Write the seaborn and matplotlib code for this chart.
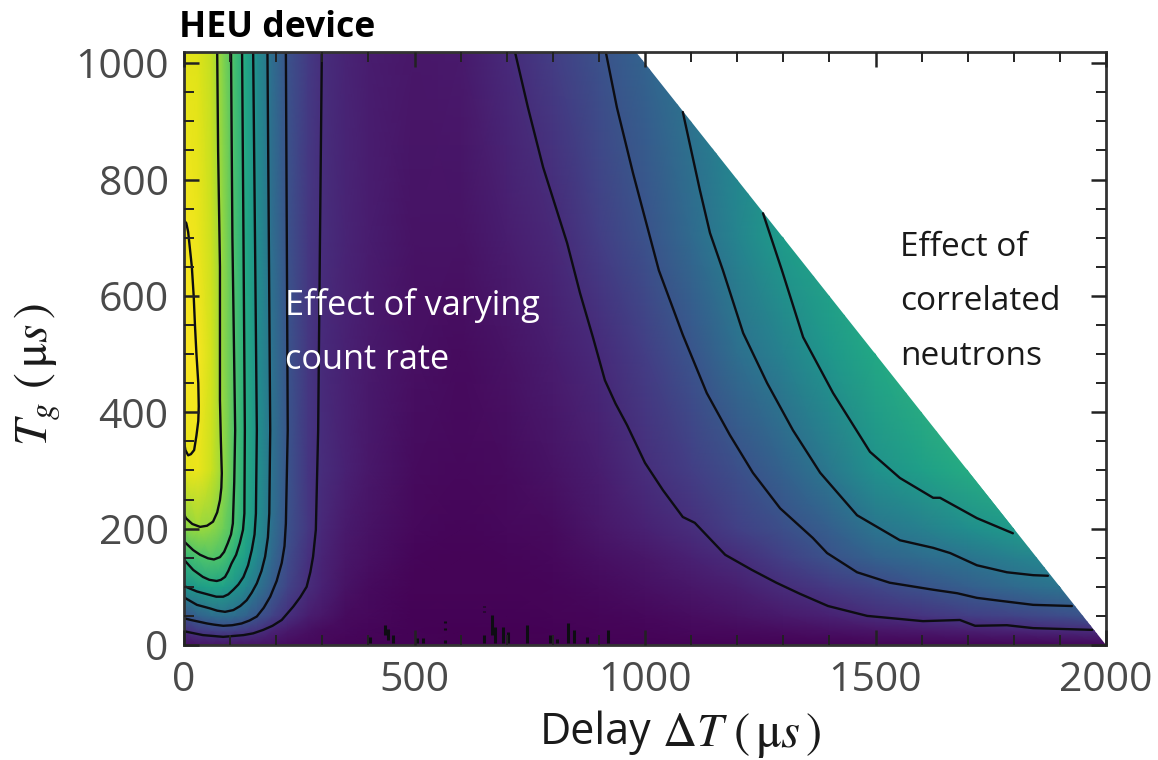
# -*- coding: utf-8 -*-
import matplotlib
matplotlib.use('Agg')
import matplotlib.pyplot as plt
from matplotlib.patches import Polygon
from matplotlib.ticker import MultipleLocator
import numpy as np
import seaborn as sns

# grid the colour map is read on (delay, gate width in us)
delay = [0, 30, 60, 85, 110, 135, 160, 190, 225, 270, 300, 350, 400, 500, 600, 700, 800,
         900, 1000, 1100, 1200, 1300, 1400, 1500, 1600, 1700, 1800, 1900, 2000]
gate = [0, 25, 50, 100, 150, 200, 300, 500, 700, 1020]

# colour level at each grid node, one row per gate value
row_0 = [.04, .05, .05, .05, .05, .05, .05, .04, .03, .02, .02, .01, .01, .005, .003, .003, .003,
         .004, .005, .005, .006, .006, .007, .008, .009, .01, .01, .015, .02]
row_25 = [.13, .17, .19, .20, .19, .17, .145, .105, .07, .04, .03, .02, .015, .005, .003, .003, .005,
          .01, .015, .02, .025, .035, .045, .055, .07, .085, .10, .115, .13]
row_50 = [.25, .31, .35, .36, .35, .31, .26, .20, .14, .08, .06, .03, .02, .005, .005, .005, .01,
          .015, .02, .035, .05, .07, .09, .125, .15, .18, .20, .23, .27]
row_100 = [.51, .55, .58, .57, .52, .46, .39, .29, .20, .125, .09, .05, .03, .01, .01, .01, .015,
           .025, .04, .06, .085, .125, .17, .21, .255, .30, .34, .385, .42]
row_150 = [.66, .71, .73, .71, .62, .55, .46, .34, .23, .14, .10, .06, .04, .015, .01, .015, .02,
           .04, .06, .09, .125, .19, .25, .31, .35, .385, .43, .47, .52]
row_200 = [.82, .85, .83, .78, .71, .60, .49, .37, .25, .16, .11, .07, .05, .02, .015, .02, .03,
           .06, .09, .13, .19, .24, .30, .39, .43, .49, .54, .60, .64]
row_300 = [.96, .97, .92, .84, .72, .61, .50, .38, .26, .155, .125, .09, .065, .03, .02, .03, .05,
           .08, .13, .18, .24, .31, .40, .50, .56, .61, .65, .70, .74]
row_500 = [1.0, .99, .93, .83, .72, .61, .49, .38, .26, .16, .12, .09, .07, .04, .03, .05, .08,
           .12, .18, .26, .36, .44, .53, .60, .65, .70, .75, .80, .85]
row_700 = [.985, .97, .92, .83, .71, .60, .49, .36, .25, .16, .13, .10, .08, .05, .05, .08, .11,
           .18, .25, .34, .45, .55, .60, .65, .70, .75, .80, .85, .90]
row_top = [.96, .95, .91, .81, .70, .59, .48, .36, .25, .17, .13, .10, .08, .06, .07, .12, .18,
           .25, .32, .40, .48, .56, .60, .65, .70, .75, .80, .85, .90]

# contour lines
line_a_x = [0, 5, 9, 13, 17, 21, 24, 27, 31, 32, 31, 27, 22, 15, 9, 3, 0]
line_a_y = [730, 725, 710, 680, 650, 600, 546, 500, 450, 410, 385, 360, 335, 328, 326, 335, 350]
line_b_x = [72, 74, 78, 78, 80, 82, 81, 78, 72, 63, 50, 35, 18, 4, 0]
line_b_y = [1020, 850, 650, 421, 350, 295, 270, 249, 228, 212, 205, 203, 208, 218, 225]
line_c_x = [102, 105, 111, 109, 106, 102, 95, 87, 78, 65, 52, 35, 20, 4, 0]
line_c_y = [1020, 700, 369, 280, 209, 190, 175, 160, 151, 147, 149, 155, 163, 175, 178]
line_d_x = [126, 129, 132, 131, 128, 121, 113, 103, 96, 89, 80, 71, 55, 41, 20, 4, 0]
line_d_y = [1020, 700, 369, 226, 198, 175, 155, 140, 127, 117, 112, 110, 112, 117, 129, 143, 147]
line_e_x = [150, 154, 158, 156, 153, 147, 139, 129, 118, 107, 96, 85, 70, 56, 28, 4, 0]
line_e_y = [1020, 700, 369, 226, 190, 163, 137, 117, 104, 95, 87, 83, 83, 86, 92, 100, 102]
line_f_x = [181, 184, 187, 185, 182, 176, 168, 158, 147, 136, 122, 107, 89, 72, 56, 28, 4, 0]
line_f_y = [1020, 700, 369, 226, 185, 152, 127, 106, 90, 77, 67, 60, 57, 59, 63, 69, 80, 82]
line_g_x = [221, 223, 225, 221, 218, 212, 201, 187, 173, 158, 142, 125, 105, 85, 65, 50, 15, 0]
line_g_y = [1020, 700, 369, 209, 170, 141, 110, 83, 64, 49, 42, 37, 34, 33, 35, 37, 43, 46]
line_h_x = [299, 295, 291, 286, 280, 274, 266, 252, 237, 212, 192, 172, 150, 129, 85, 41, 4, 0]
line_h_y = [1020, 700, 369, 198, 152, 125, 100, 82, 66, 43, 33, 26, 20, 17, 14, 17, 23, 24]
line_p_x = [718, 746, 779, 831, 859, 887, 913, 936, 961, 1000, 1039, 1082, 1108, 1174, 1232, 1285, 1336,
            1397, 1482, 1603, 1683, 1716, 1785, 1842, 1970]
line_p_y = [1019, 924, 821, 691, 605, 529, 455, 415, 378, 313, 266, 220, 210, 155, 129, 107, 88,
            67, 50, 41, 43, 33, 34, 29, 26]
line_q_x = [915, 939, 974, 1030, 1082, 1134, 1184, 1234, 1293, 1364, 1395, 1460, 1531, 1625,
            1677, 1720, 1770, 1842, 1926]
line_q_y = [1019, 924, 811, 644, 533, 433, 361, 296, 235, 184, 158, 125, 107, 95,
            89, 81, 76, 69, 67]
line_r_x = [1082, 1119, 1141, 1169, 1213, 1265, 1321, 1380, 1460, 1553, 1625, 1662, 1720, 1785,
            1842, 1874]
line_r_y = [916, 782, 708, 644, 536, 450, 369, 296, 223, 180, 167, 158, 137, 125, 120, 119]
line_s_x = [1256, 1297, 1343, 1408, 1488, 1553, 1625, 1640, 1720, 1798]
line_s_y = [742, 644, 529, 433, 332, 287, 253, 253, 218, 192]

# noisy specks of the lowest contour along the bottom
speck_x = [404, 436, 443, 454, 505, 519, 566, 566, 566, 650, 650, 650, 668, 675, 692, 703, 743,
           794, 809, 834, 845, 874, 920]
speck_lo = [3, 17, 9, 3, 3, 3, 3, 26, 38, 3, 57, 65, 17, 3, 3, 3, 3, 3, 3, 3, 3, 3, 3]
speck_hi = [14, 34, 28, 17, 12, 12, 9, 29, 42, 17, 59, 67, 52, 31, 31, 23, 34, 17, 11, 37, 26, 14, 26]

sns.set_style('ticks')
plt.rcParams['font.family'] = ['Open Sans', 'DejaVu Sans']
plt.rcParams['mathtext.fontset'] = 'stix'

fig = plt.figure(figsize=(11.58, 7.6), dpi=100)
ax = fig.add_axes([184 / 1158, 1 - 645 / 760, 922 / 1158, 593.5 / 760])

levels = np.array([row_0, row_25, row_50, row_100, row_150, row_200, row_300, row_500, row_700, row_top])
viridis = sns.color_palette('viridis', as_cmap=True)
mesh = ax.pcolormesh(delay, gate, levels, cmap=viridis, vmin=0, vmax=1, shading='gouraud')

# nothing measured beyond delay + gate = 2000
mesh.set_clip_path(Polygon([(0, 0), (2000, 0), (980, 1020), (0, 1020)], transform=ax.transData))

contours = [(line_a_x, line_a_y), (line_b_x, line_b_y), (line_c_x, line_c_y), (line_d_x, line_d_y),
            (line_e_x, line_e_y), (line_f_x, line_f_y), (line_g_x, line_g_y), (line_h_x, line_h_y),
            (line_p_x, line_p_y), (line_q_x, line_q_y), (line_r_x, line_r_y), (line_s_x, line_s_y)]
for xs, ys in contours:
    sns.lineplot(x=xs, y=ys, sort=False, estimator=None, color='#0d0d12', linewidth=1.7,
                 solid_joinstyle='round', ax=ax)
ax.vlines(speck_x, speck_lo, speck_hi, color='#0d0d12', linewidth=2.2)

ax.set_xlim(0, 2000)
ax.set_ylim(0, 1020)
ax.set_axisbelow(False)  # seaborn style puts ticks under the mesh
ax.xaxis.set_major_locator(MultipleLocator(500))
ax.xaxis.set_minor_locator(MultipleLocator(100))
ax.yaxis.set_major_locator(MultipleLocator(200))
ax.yaxis.set_minor_locator(MultipleLocator(50))
ax.tick_params(which='major', direction='in', top=True, right=True, length=11, width=1.8,
               color='#222222', labelsize=29.5, labelcolor='#4a4a4a', pad=11)
ax.tick_params(which='minor', direction='in', top=True, right=True, length=7, width=1.4, color='#222222')
for spine in ax.spines.values():
    spine.set_linewidth(2)
    spine.set_color('#333333')

# axis labels are set by hand, the math parts sit larger than the words
fig.text(540 / 1158, 1 - 733 / 760, 'Delay', fontsize=31, color='#1a1a1a', ha='left', va='center')
fig.text(662 / 1158, 1 - 733 / 760, r'$\Delta T$', fontsize=34, color='#1a1a1a', ha='left', va='center')
fig.text(733 / 1158, 1 - 735 / 760, r'$(\,\mathrm{\mu}s\,)$', fontsize=35, color='#1a1a1a', ha='left', va='center')
fig.text(38 / 1158, 1 - 374 / 760, r'$T_g$ $(\,\mathrm{\mu}s\,)$', fontsize=34, color='#1a1a1a',
         rotation=90, ha='center', va='center')
fig.text(179 / 1158, 1 - 37 / 760, 'HEU device', fontsize=25.6, fontweight='bold', color='black',
         ha='left', va='baseline')

ax.text(219, 567, 'Effect of varying', fontsize=24.7, color='white', va='baseline')
ax.text(219, 474, 'count rate', fontsize=24.7, color='white', va='baseline')
ax.text(1553, 668, 'Effect of', fontsize=24, color='#1a1a1a', va='baseline')
ax.text(1553, 576, 'correlated', fontsize=24, color='#1a1a1a', va='baseline')
ax.text(1553, 481, 'neutrons', fontsize=24, color='#1a1a1a', va='baseline')

fig.savefig('out.png', dpi=100)
